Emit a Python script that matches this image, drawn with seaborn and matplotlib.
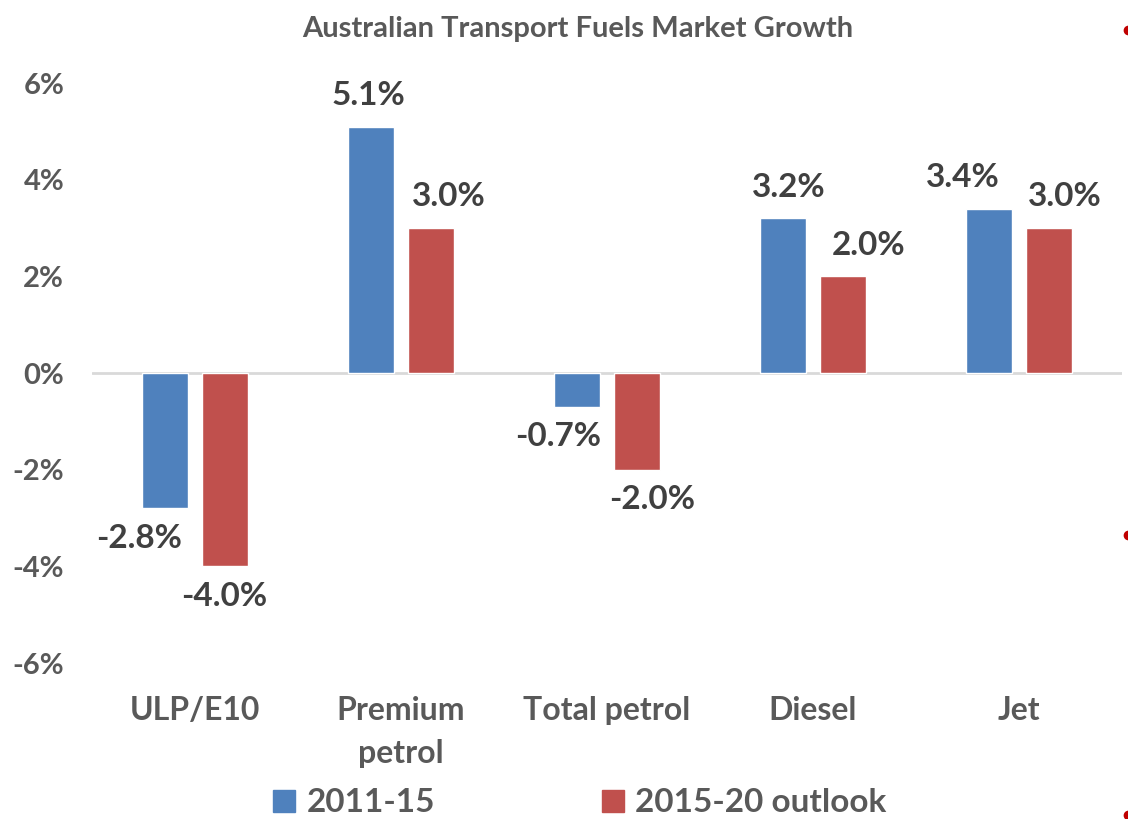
# Australian transport fuels market growth: grouped bar chart

import matplotlib.pyplot as plt
from matplotlib.lines import Line2D
import pandas as pd
import seaborn as sns


CATEGORIES = ["ULP/E10", "Premium\npetrol", "Total petrol", "Diesel", "Jet"]
SERIES = ["2011-15", "2015-20 outlook"]
GROWTH_2011_15 = [-2.8, 5.1, -0.7, 3.2, 3.4]
GROWTH_2015_20 = [-4.0, 3.0, -2.0, 2.0, 3.0]
Y_TICKS = [-6, -4, -2, 0, 2, 4, 6]

COLORS = ["#4F81BD", "#C0504D"]
TEXT_GRAY = "#595959"
LABEL_GRAY = "#404040"

# label nudges (points) so labels sit as in the original chart
LABEL_SHIFT = {
    "2011-15": [(-19, 0), (-2, 0), (-14, 0), (4, 0), (-19, 0)],
    "2015-20 outlook": [(0, 0), (13, 0), (11, 0), (19, 0), (12, 0)],
}


def setup_plot_style() -> None:
    sns.set_theme(style="white")
    plt.rcParams["font.family"] = ["Lato", "DejaVu Sans"]
    plt.rcParams["font.weight"] = "bold"


if __name__ == "__main__":
    setup_plot_style()

    df = pd.DataFrame(
        {
            "fuel": CATEGORIES * 2,
            "series": [SERIES[0]] * len(CATEGORIES) + [SERIES[1]] * len(CATEGORIES),
            "growth": GROWTH_2011_15 + GROWTH_2015_20,
        }
    )

    fig = plt.figure(figsize=(11.28, 8.19), dpi=100)
    ax = fig.add_axes([92 / 1128, 1 - 663 / 819, 1030 / 1128, 580 / 819])

    sns.barplot(
        data=df,
        x="fuel",
        y="growth",
        hue="series",
        order=CATEGORIES,
        hue_order=SERIES,
        palette=COLORS,
        width=0.575,
        gap=0.22,
        saturation=1,
        ax=ax,
    )

    for container, name in zip(ax.containers, SERIES):
        for bar, (dx, dy) in zip(container, LABEL_SHIFT[name]):
            h = bar.get_height()
            ax.annotate(
                f"{h:.1f}%",
                xy=(bar.get_x() + bar.get_width() / 2, h),
                xytext=(dx, dy + (12 if h >= 0 else -11)),
                textcoords="offset points",
                ha="center",
                va="bottom" if h >= 0 else "top",
                fontsize=24,
                fontweight="bold",
                color=LABEL_GRAY,
            )

    ax.set_ylim(-6, 6)
    ax.set_xlim(-0.5, 4.5)
    ax.set_yticks(Y_TICKS)
    ax.set_yticklabels([f"{t}%" for t in Y_TICKS])
    ax.axhline(0, color="#D9D9D9", lw=2, zorder=0)
    for side in ["top", "right", "bottom", "left"]:
        ax.spines[side].set_visible(False)
    ax.tick_params(axis="y", labelsize=21, labelcolor=TEXT_GRAY, pad=20, length=0)
    ax.tick_params(axis="x", labelsize=23, labelcolor=TEXT_GRAY, pad=24, length=0)
    ax.set_xlabel("")
    ax.set_ylabel("")
    for lab in ax.get_xticklabels():
        lab.set_linespacing(1.55)

    ax.set_title(
        "Australian Transport Fuels Market Growth",
        fontsize=21,
        fontweight="bold",
        color=TEXT_GRAY,
        pad=0,
        y=1 + 46 / 580,
        x=(578 - 92) / 1030,
    )

    ax.get_legend().remove()
    fig.legend(
        handles=[plt.Rectangle((0, 0), 1, 1, color=c) for c in COLORS],
        labels=SERIES,
        loc="center",
        bbox_to_anchor=(580 / 1128, 1 - 803 / 819),
        ncol=2,
        frameon=False,
        fontsize=24,
        labelcolor=TEXT_GRAY,
        handlelength=0.65,
        handleheight=0.65,
        handletextpad=0.35,
        columnspacing=5.0,
        borderaxespad=0,
    )

    # small red marker dots on the right edge, as in the source image
    for yp in [30, 535, 815]:
        fig.add_artist(
            Line2D([1.0], [1 - yp / 819], marker="o", markersize=6,
                   color="#C00000", transform=fig.transFigure, clip_on=False)
        )

    fig.savefig("out.png", dpi=100)
    plt.close(fig)
    print("out.png")
